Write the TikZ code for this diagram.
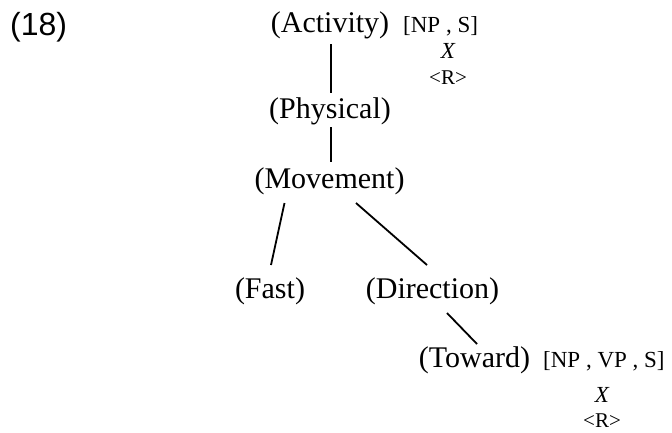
\documentclass[tikz,border=0pt]{standalone}
\usepackage{fontspec}
\setmainfont{Liberation Serif}
\newfontfamily\exnumfont{Liberation Sans}
\begin{document}
\begin{tikzpicture}[x=1pt,y=-1pt,
  concept/.style={inner sep=0pt,outer sep=0pt,anchor=base,
    text height=20pt,text depth=6pt,font=\fontsize{30}{33}\selectfont},
  feat/.style={inner sep=0pt,anchor=base west,font=\fontsize{23}{26}\selectfont},
  var/.style={inner sep=0pt,anchor=base,font=\fontsize{23}{26}\selectfont\itshape},
  role/.style={inner sep=0pt,anchor=base,font=\fontsize{21}{24}\selectfont},
  branch/.style={line width=1.8pt}]
\useasboundingbox (0,0) rectangle (672,432);

% example number
\node[inner sep=0pt,anchor=base west,font=\fontsize{32}{36}\selectfont\exnumfont] (num) at (10,35) {(18)};

% concept hierarchy
\node[concept] (act) at (330,32) {(Activity)};
\node[concept] (phy) at (330,118) {(Physical)};
\node[concept] (mov) at (329.5,188) {(Movement)};
\node[concept] (fast) at (270,298) {(Fast)};
\node[concept] (dir) at (432.5,298) {(Direction)};
\node[concept] (tow) at (474.5,367) {(Toward)};

% selectional annotations
\node[feat] (f1) at (403,32) {[NP , S]};
\node[var] (x1) at (448,58) {X};
\node[role] (r1) at (448,84) {<R>};
\node[feat] (f2) at (543,367) {[NP , VP , S]};
\node[var] (x2) at (602,402) {X};
\node[role] (r2) at (602,427) {<R>};

% branches
\draw[branch] ([shift={(1pt,-6pt)}]act.south) -- ([shift={(1pt,5pt)}]phy.north);
\draw[branch] ([shift={(1pt,-3pt)}]phy.south) -- ([shift={(1.5pt,6pt)}]mov.north);
\draw[branch] ([shift={(-45pt,-9pt)}]mov.south) -- ([shift={(1pt,13pt)}]fast.north);
\draw[branch] ([shift={(26.5pt,-9pt)}]mov.south) -- ([shift={(-5.5pt,13pt)}]dir.north);
\draw[branch] ([shift={(14.5pt,-9pt)}]dir.south) -- ([shift={(2.5pt,3pt)}]tow.north);
\end{tikzpicture}
\end{document}
